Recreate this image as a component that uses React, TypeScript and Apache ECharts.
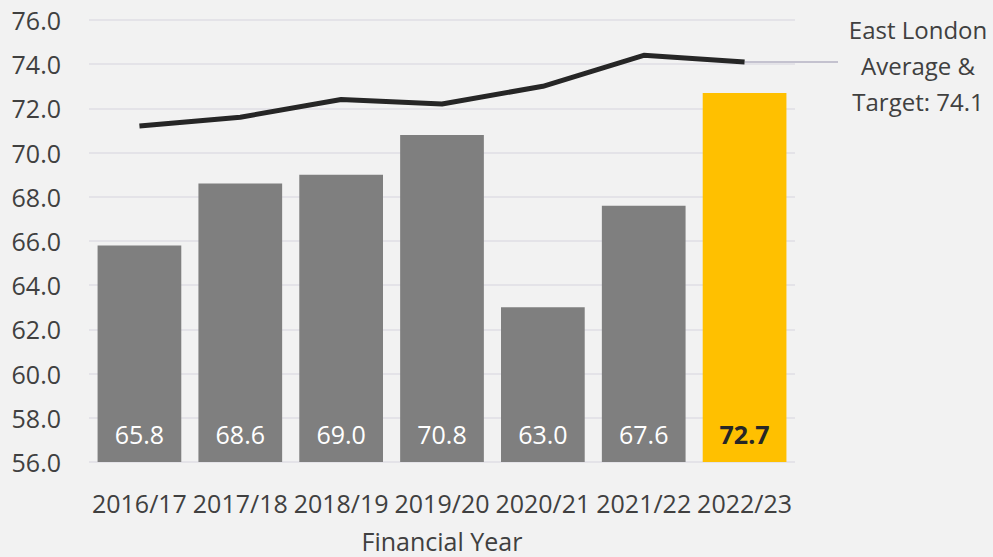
import React, { useEffect, useRef } from "react";
import * as echarts from "echarts";

const categories = ["2016/17", "2017/18", "2018/19", "2019/20", "2020/21", "2021/22", "2022/23"];
const barValues = [65.8, 68.6, 69.0, 70.8, 63.0, 67.6, 72.7];
const averageValues = [71.2, 71.6, 72.4, 72.2, 73.0, 74.4, 74.1];
const targetLabel = ["East London", "Average &", "Target: 74.1"];
const yTicks = { min: 56, max: 76, interval: 2 };

const FONT = "'Open Sans', 'Noto Sans', sans-serif";
const TEXT = "#404040";

export default function App() {
  const ref = useRef<HTMLDivElement>(null);
  useEffect(() => {
    if (!ref.current) return;
    const chart = echarts.init(ref.current, null, { renderer: "svg" });
    const last = barValues.length - 1;
    const option: any = {
      animation: false,
      backgroundColor: "#f2f2f2",
      textStyle: { fontFamily: FONT },
      grid: { left: 89, right: 198, top: 20, bottom: 95, containLabel: false, outerBoundsMode: "none" },
      xAxis: {
        type: "category",
        data: categories,
        axisLine: { show: false },
        axisTick: { show: false },
        axisLabel: { color: TEXT, fontSize: 25, fontFamily: FONT, margin: 26, lineHeight: 30, interval: 0 },
        name: "Financial Year",
        nameLocation: "middle",
        nameGap: 66,
        nameTextStyle: { color: TEXT, fontSize: 25, fontFamily: FONT, lineHeight: 25 },
      },
      yAxis: {
        type: "value",
        min: yTicks.min,
        max: yTicks.max,
        interval: yTicks.interval,
        axisLine: { show: false },
        axisTick: { show: false },
        splitLine: { lineStyle: { color: "#dfdee5", width: 1.5 } },
        axisLabel: {
          color: TEXT,
          fontSize: 25,
          fontFamily: FONT,
          margin: 28,
          formatter: (v: number) => v.toFixed(1),
        },
      },
      series: [
        {
          type: "bar",
          barCategoryGap: "17%",
          data: barValues.map((v, i) => ({
            value: v,
            itemStyle: { color: i === last ? "#ffc000" : "#7f7f7f" },
            label:
              i === last
                ? { color: "#262626", fontWeight: "bold" }
                : { color: "#ffffff", fontWeight: "normal" },
          })),
          label: {
            show: true,
            position: "insideBottom",
            distance: 16,
            fontSize: 25,
            fontFamily: FONT,
            formatter: (p: any) => Number(p.value).toFixed(1),
          },
        },
        {
          type: "line",
          data: averageValues,
          symbol: "none",
          lineStyle: { color: "#262626", width: 5 },
          z: 5,
        },
      ],
    };
    chart.setOption(option);
    const pt = chart.convertToPixel({ gridIndex: 0 }, [last, averageValues[last]]) as number[];
    const gridRight = 993 - 198;
    chart.setOption({
      graphic: [
        {
          type: "line",
          shape: { x1: pt[0], y1: pt[1], x2: gridRight + 43, y2: pt[1] },
          style: { stroke: "#b4b2c3", lineWidth: 1.5 },
          z: 3,
        },
        {
          type: "text",
          x: gridRight + 123,
          y: 65,
          style: {
            text: targetLabel.join("\n"),
            align: "center",
            verticalAlign: "middle",
            fontSize: 24,
            lineHeight: 36,
            fontFamily: FONT,
            fill: TEXT,
          },
        },
      ],
    });
    return () => chart.dispose();
  }, []);
  return <div ref={ref} style={{ position: "fixed", left: 0, top: 0, width: 993, height: 557 }} />;
}
